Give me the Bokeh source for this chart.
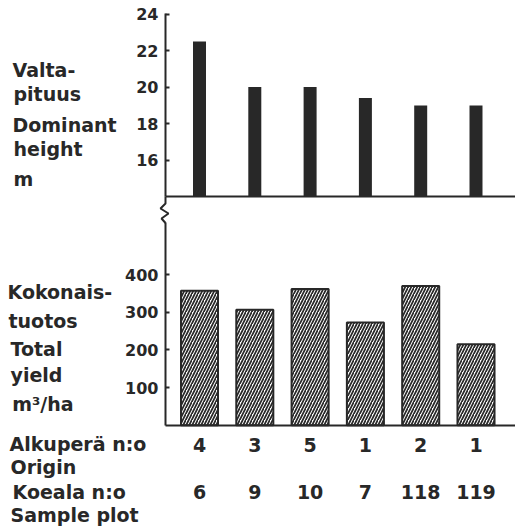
from bokeh.plotting import figure
from bokeh.models import Range1d, FixedTicker, LinearAxis, ColumnDataSource
from bokeh.core.properties import value
from bokeh.embed import file_html
from bokeh.resources import INLINE

# ---- data ----
origin = ["4", "3", "5", "1", "2", "1"]
plot_no = ["6", "9", "10", "7", "118", "119"]
dominant_height = [22.5, 20.0, 20.0, 19.4, 19.0, 19.0]
total_yield = [357, 307, 362, 273, 370, 215]
height_ticks = [16, 18, 20, 22, 24]
yield_ticks = [100, 200, 300, 400]

top_labels = ["Valta-", "pituus", "Dominant", "height", "m"]
bottom_labels = ["Kokonais-", "tuotos", "Total", "yield", "m\u00b3/ha"]
row_labels = ["Alkuper\u00e4 n:o", "Origin", "Koeala n:o", "Sample plot"]

xs = list(range(len(origin)))

INK = "#282828"
FONT = "DejaVu Sans"
W, H = 515, 530

# ---- pixel layout of the scales ----
C0, PX = 199.0, 55.3          # first bar centre, px per bar step
Y0, YPU = 424.8, 0.3767       # pixel row of yield 0, px per m3/ha
H14, HPU = 196.3, 18.28       # pixel row of height 14 m, px per m
AX = 165.0                    # pixel column of the y axes
TXT_SHIFT = 8.0               # renderer places text this much lower

def dx(px):
    return (px - C0) / PX

def vy(py):
    return (Y0 - py) / YPU

p = figure(width=W, height=H,
           x_range=Range1d(dx(0), dx(W)),
           y_range=Range1d(vy(H), vy(0)),
           output_backend="svg", toolbar_location=None,
           x_axis_location=None, y_axis_location=None,
           min_border=0, min_border_left=0, min_border_right=0,
           min_border_top=0, min_border_bottom=0)
p.extra_y_ranges = {"h": Range1d(14 - (H - H14) / HPU, 14 + H14 / HPU)}
p.outline_line_color = None
p.background_fill_color = "white"
p.border_fill_color = "white"
p.grid.visible = False

# bars
p.vbar(x=xs, top=dominant_height, bottom=14, width=0.235, y_range_name="h",
       fill_color=INK, line_color=None)
p.vbar(x=xs, top=total_yield, bottom=0, width=0.67,
       fill_color="white", line_color=INK, line_width=2,
       hatch_pattern="/", hatch_color=INK, hatch_scale=6, hatch_weight=1.7)

def style_y(ax):
    ax.axis_line_width = 2
    ax.axis_line_color = INK
    ax.major_tick_line_width = 2
    ax.major_tick_line_color = INK
    ax.major_tick_in = 4
    ax.major_tick_out = 0
    ax.minor_tick_line_color = None
    ax.major_label_text_font = FONT
    ax.major_label_text_font_style = "bold"
    ax.major_label_text_font_size = "16px"
    ax.major_label_text_color = INK
    ax.major_label_standoff = 7

# y axes
ya_h = LinearAxis(y_range_name="h", fixed_location=dx(AX),
                  bounds=(14, 14 + (H14 - 12.5) / HPU),
                  ticker=FixedTicker(ticks=height_ticks))
style_y(ya_h)
p.add_layout(ya_h, "left")
ya_v = LinearAxis(fixed_location=dx(AX), bounds=(0, vy(222)),
                  ticker=FixedTicker(ticks=yield_ticks))
style_y(ya_v)
p.add_layout(ya_v, "left")

# x axes (baselines + category rows)
xa_top = LinearAxis(y_range_name="h", fixed_location=14,
                    bounds=(dx(AX), dx(W)), ticker=FixedTicker(ticks=[]))
xa_top.axis_line_width = 2
xa_top.axis_line_color = INK
p.add_layout(xa_top, "below")

def style_x(ax):
    ax.major_tick_line_color = None
    ax.minor_tick_line_color = None
    ax.major_label_text_font = FONT
    ax.major_label_text_font_style = "bold"
    ax.major_label_text_font_size = "19px"
    ax.major_label_text_color = INK

xa_o = LinearAxis(fixed_location=0, bounds=(dx(AX), dx(W)),
                  ticker=FixedTicker(ticks=xs),
                  major_label_overrides={i: s for i, s in zip(xs, origin)})
style_x(xa_o)
xa_o.axis_line_width = 2
xa_o.axis_line_color = INK
xa_o.major_label_standoff = 7
p.add_layout(xa_o, "below")

xa_p = LinearAxis(fixed_location=0, ticker=FixedTicker(ticks=xs),
                  major_label_overrides={i: s for i, s in zip(xs, plot_no)})
style_x(xa_p)
xa_p.axis_line_color = None
xa_p.major_label_standoff = 54
p.add_layout(xa_p, "below")

# axis break mark
zz = [(165, 196), (165, 203), (160, 208), (168, 213), (161, 218), (165, 222.5)]
p.line(x=[dx(a) for a, b in zz], y=[vy(b) for a, b in zz],
       line_color=INK, line_width=2)

# left-hand texts (pixel column of left edge, pixel row of baseline)
pos = ([(12, 77), (13, 101.7), (12, 132), (13, 156), (13, 186.7)] +
       [(7, 299.3), (8, 328.3), (10, 356.7), (10, 382.3), (11.7, 411.7)] +
       [(9, 451), (10, 474), (12, 499), (10, 522)])
texts = top_labels + bottom_labels + row_labels
src = ColumnDataSource(dict(x=[dx(a) for a, b in pos],
                            y=[vy(b - TXT_SHIFT) for a, b in pos],
                            t=texts))
p.text(x="x", y="y", text="t", source=src, text_font=value(FONT),
       text_font_style="bold", text_font_size="19px", text_color=INK,
       text_align="left", text_baseline="alphabetic")

open("out.html", "w").write(file_html(p, INLINE))
